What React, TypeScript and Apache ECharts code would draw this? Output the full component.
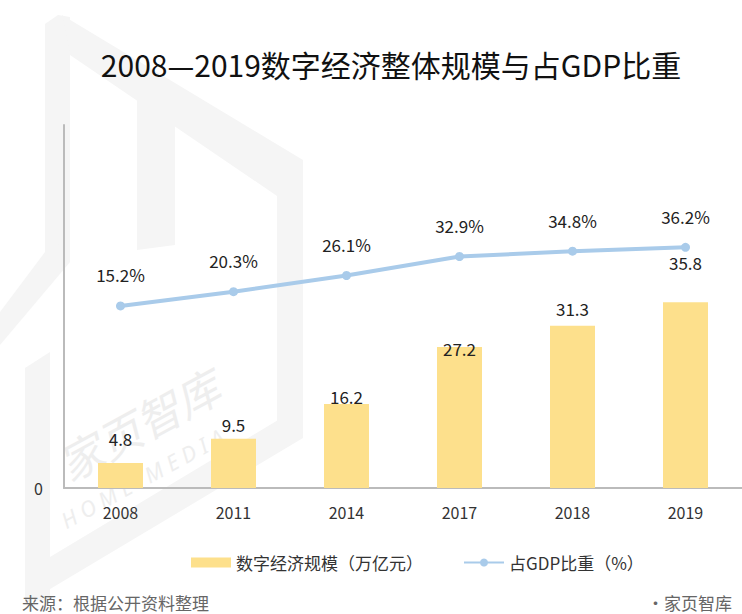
import React, { useEffect, useRef } from "react";
import * as echarts from "echarts";

const years = ["2008", "2011", "2014", "2017", "2018", "2019"];
const scaleValues = [4.8, 9.5, 16.2, 27.2, 31.3, 35.8];
const gdpShare = [15.2, 20.3, 26.1, 32.9, 34.8, 36.2];
const barLabelNudge = [-16, -6, 1, 10, -9, -31];

const FONT = '"Noto Sans CJK SC", "Noto Sans", sans-serif';
const WM = "#f5f5f5";

export default function App() {
  const ref = useRef<HTMLDivElement>(null);
  useEffect(() => {
    if (!ref.current) return;
    const chart = echarts.init(ref.current, undefined, { renderer: "svg" });
    const poly = (points: number[][]) => ({
      type: "polygon",
      shape: { points },
      style: { fill: WM },
      silent: true,
    });
    chart.setOption({
      animation: false,
      backgroundColor: "#ffffff",
      textStyle: { fontFamily: FONT },
      graphic: [
        {
          type: "group",
          z: -10,
          children: [
            poly([[45, 24], [58, 15], [70, 17], [70, 262], [45, 276]]),
            poly([[45, 252], [70, 238], [70, 262], [0, 345], [0, 312]]),
            poly([[62, 15], [303, 160], [303, 196], [277, 196], [70, 55]]),
            poly([[277, 180], [303, 170], [303, 422], [277, 436]]),
            poly([[25, 572], [303, 405], [303, 438], [25, 604]]),
            poly([[25, 368], [50, 352], [50, 600], [25, 600]]),
            poly([[137, 92], [175, 92], [175, 245], [137, 250]]),
            {
              type: "text",
              x: 138,
              y: 424,
              rotation: 0.5,
              silent: true,
              style: {
                text: "家页智库",
                fill: "#eeeeee",
                font: 'italic 44px "Noto Sans CJK SC"',
                align: "center",
                verticalAlign: "middle",
              },
            },
            {
              type: "text",
              x: 142,
              y: 478,
              rotation: 0.5,
              silent: true,
              style: {
                text: "H O M E   M E D I A",
                fill: "#eeeeee",
                font: 'italic 22px "Noto Sans"',
                align: "center",
                verticalAlign: "middle",
              },
            },
          ],
        },
        {
          type: "text",
          x: 391,
          y: 64,
          style: {
            text: "2008—2019数字经济整体规模与占GDP比重",
            fill: "#111",
            font: '30px "Noto Sans CJK SC"',
            align: "center",
            verticalAlign: "middle",
          },
        },
        {
          type: "text",
          x: 22,
          y: 602,
          style: {
            text: "来源：根据公开资料整理",
            fill: "#666",
            font: '17px "Noto Sans CJK SC"',
            align: "left",
            verticalAlign: "middle",
          },
        },
        {
          type: "text",
          x: 732,
          y: 602,
          style: {
            text: "·家页智库",
            fill: "#666",
            font: '17px "Noto Sans CJK SC"',
            align: "right",
            verticalAlign: "middle",
          },
        },
      ],
      legend: {
        left: 186,
        top: 549,
        itemWidth: 40,
        itemHeight: 10,
        itemGap: 40,
        textStyle: { fontSize: 17, color: "#333", fontFamily: FONT },
        data: [
          { name: "数字经济规模（万亿元）", icon: "rect" },
          { name: "占GDP比重（%）" },
        ],
      },
      grid: { left: 64, right: 0, top: 125, bottom: 126 },
      xAxis: {
        type: "category",
        data: years,
        axisLine: { lineStyle: { color: "#bbbbbb", width: 2 } },
        axisTick: { show: false },
        axisLabel: { fontSize: 16, color: "#333", margin: 16, fontFamily: FONT },
      },
      yAxis: [
        {
          type: "value",
          min: 0,
          max: 70,
          interval: 70,
          splitLine: { show: false },
          axisLine: { show: true, lineStyle: { color: "#bbbbbb", width: 2 } },
          axisTick: { show: false },
          axisLabel: {
            fontSize: 16,
            color: "#333",
            margin: 21,
            fontFamily: FONT,
            formatter: (v: number) => (v === 0 ? "0" : ""),
          },
        },
        {
          type: "value",
          min: -50,
          max: 80,
          show: false,
          splitLine: { show: false },
        },
      ],
      series: [
        {
          name: "数字经济规模（万亿元）",
          type: "bar",
          barWidth: 45,
          itemStyle: { color: "#fde08c" },
          data: scaleValues.map((v, i) => ({
            value: v,
            label: { offset: [0, barLabelNudge[i]] },
          })),
          label: {
            show: true,
            position: "top",
            distance: 0,
            fontSize: 17,
            color: "#222",
            fontFamily: FONT,
          },
          z: 2,
        },
        {
          name: "占GDP比重（%）",
          type: "line",
          yAxisIndex: 1,
          data: gdpShare,
          symbol: "circle",
          symbolSize: 9,
          lineStyle: { color: "#a9cbea", width: 4 },
          itemStyle: { color: "#a9cbea" },
          label: {
            show: true,
            position: "top",
            distance: 18,
            fontSize: 17,
            color: "#222",
            fontFamily: FONT,
            formatter: (p: any) => p.value + "%",
          },
          z: 3,
        },
      ],
    });
    return () => chart.dispose();
  }, []);
  return (
    <div
      ref={ref}
      style={{ position: "fixed", left: 0, top: 0, width: 742, height: 614 }}
    />
  );
}
